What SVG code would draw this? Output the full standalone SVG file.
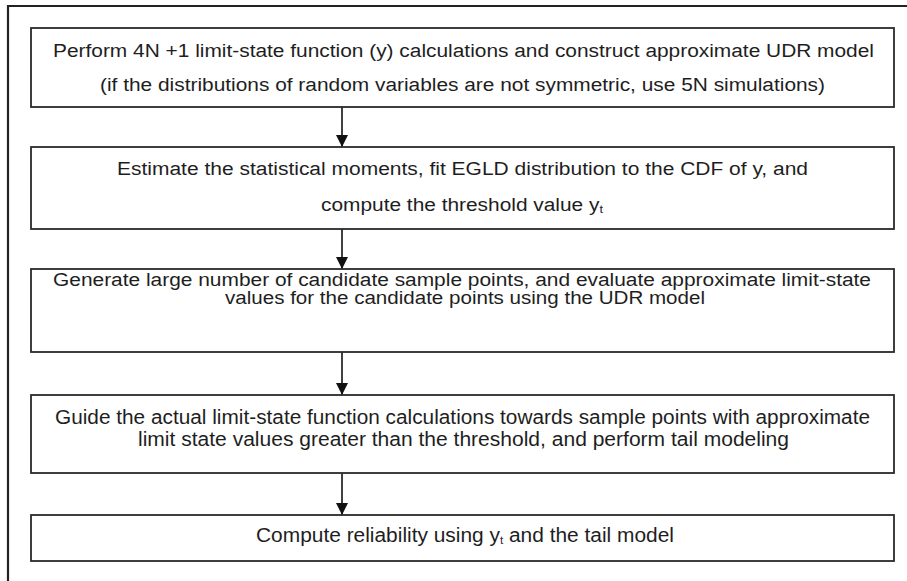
<svg xmlns="http://www.w3.org/2000/svg" width="907" height="581" viewBox="0 0 907 581">
<style>
.box{fill:#fff;stroke:#2a2a2a;stroke-width:1.8}
.t{font-family:"Liberation Sans",Arial,sans-serif;font-size:18px;fill:#1e1e1e;text-anchor:middle}
.n{font-family:"Liberation Sans",Arial,sans-serif;font-size:20px;fill:#1e1e1e;text-anchor:middle}
.sub{font-size:11px}
.conn{stroke:#111;stroke-width:1.6;fill:none}
</style>
<defs>
<marker id="ah" markerUnits="userSpaceOnUse" markerWidth="14" markerHeight="12" refX="12" refY="6" orient="auto">
<path d="M0,0 L12,6 L0,12 Z" fill="#111"/>
</marker>
</defs>
<rect width="907" height="581" fill="#fff"/>
<path d="M8,581 V6 H907" fill="none" stroke="#222" stroke-width="2.2"/>
<g id="connectors">
<line class="conn" x1="342" y1="107" x2="342" y2="147" marker-end="url(#ah)"/>
<line class="conn" x1="342" y1="229" x2="342" y2="269" marker-end="url(#ah)"/>
<line class="conn" x1="342" y1="352" x2="342" y2="395" marker-end="url(#ah)"/>
<line class="conn" x1="342" y1="473" x2="342" y2="515" marker-end="url(#ah)"/>
</g>
<g id="node1">
<rect class="box" x="31" y="28" width="863" height="79"/>
<text class="t" x="463.5" y="57" textLength="821" lengthAdjust="spacingAndGlyphs">Perform 4N +1 limit-state function (y) calculations and construct approximate UDR model</text>
<text class="t" x="462.5" y="91" textLength="725" lengthAdjust="spacingAndGlyphs">(if the distributions of random variables are not symmetric, use 5N simulations)</text>
</g>
<g id="node2">
<rect class="box" x="31" y="147" width="863" height="82"/>
<text class="t" x="462.5" y="175" textLength="691" lengthAdjust="spacingAndGlyphs">Estimate the statistical moments, fit EGLD distribution to the CDF of y, and</text>
<text class="t" x="462" y="211" textLength="282" lengthAdjust="spacingAndGlyphs">compute the threshold value y<tspan class="sub" dy="2">t</tspan></text>
</g>
<g id="node3">
<rect class="box" x="31" y="269" width="863" height="83"/>
<text class="t" x="462" y="286" textLength="818" lengthAdjust="spacingAndGlyphs">Generate large number of candidate sample points, and evaluate approximate limit-state</text>
<text class="t" x="465" y="304" textLength="480" lengthAdjust="spacingAndGlyphs">values for the candidate points using the UDR model</text>
</g>
<g id="node4">
<rect class="box" x="31" y="395" width="863" height="78"/>
<text class="n" x="462.5" y="424" textLength="815" lengthAdjust="spacingAndGlyphs">Guide the actual limit-state function calculations towards sample points with approximate</text>
<text class="n" x="463.5" y="446" textLength="651" lengthAdjust="spacingAndGlyphs">limit state values greater than the threshold, and perform tail modeling</text>
</g>
<g id="node5">
<rect class="box" x="31" y="515" width="863" height="46"/>
<text class="n" x="465" y="542" textLength="418" lengthAdjust="spacingAndGlyphs">Compute reliability using y<tspan class="sub" dy="2">t</tspan><tspan dy="-2"> and the tail model</tspan></text>
</g>
</svg>
